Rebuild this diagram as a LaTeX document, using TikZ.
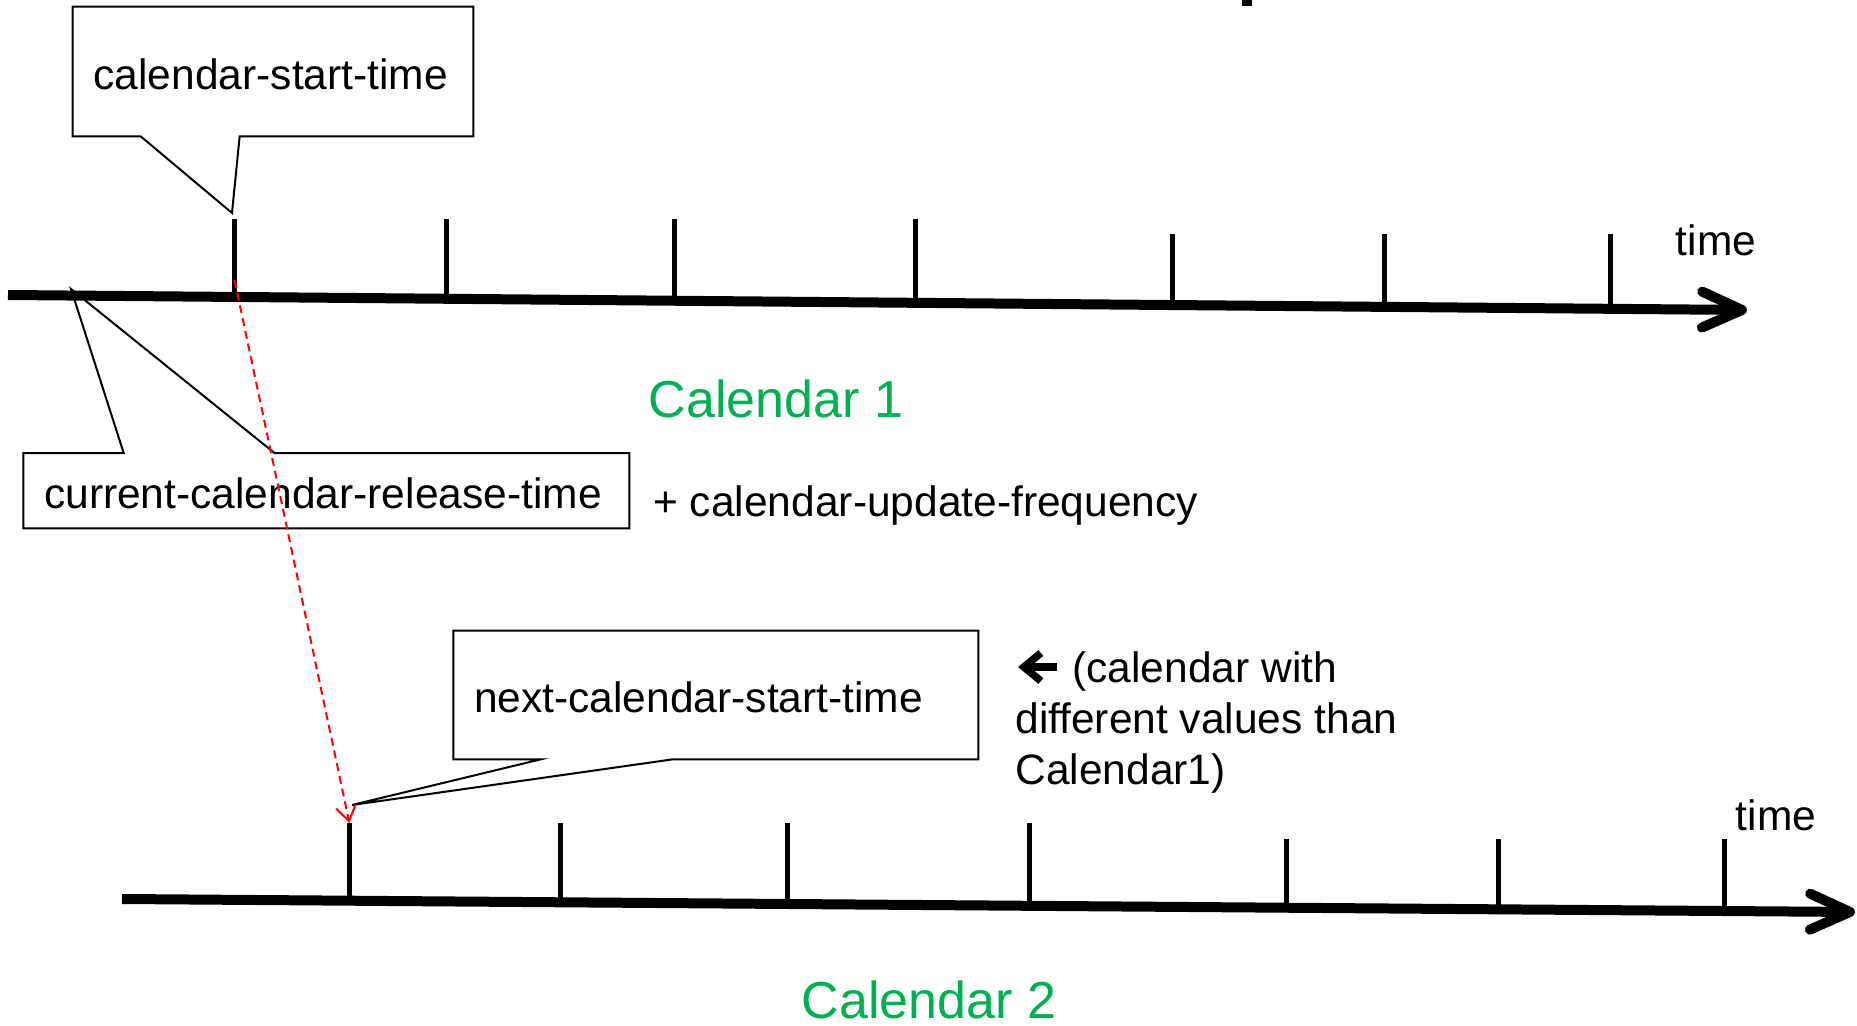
\documentclass[tikz,border=0pt]{standalone}
\usepackage{fontspec}
\setmainfont{Liberation Sans}
\usetikzlibrary{arrows.meta, positioning}
\definecolor{calgreen}{RGB}{0,176,80}
\tikzset{
	timeaxis/.style={line width=0.2cm, -{Straight Barb[length=0.8cm, width=0.72cm, round]}},
	tickline/.style={line width=0.1cm},
	calloutline/.style={line width=0.04cm},
	boxtext/.style={font=\fontsize{24.2pt}{29pt}\selectfont, inner sep=0pt},
	calbox/.style={boxtext, inner xsep=0.41cm, align=left, text width=#1, text height=0.71cm},
	caltitle/.style={font=\fontsize{29.6pt}{35pt}\selectfont, text=calgreen, anchor=base, inner sep=0pt},
	nextlink/.style={red, line width=0.04cm, dash pattern=on 0.16cm off 0.1cm, -{Straight Barb[length=0.3cm, width=0.4cm]}},
	backarrow/.style={line width=0.15cm, -{Straight Barb[length=0.34cm, width=0.56cm]}}
}

\begin{document}
\begin{tikzpicture}[x=0.02cm, y=-0.02cm]
	\useasboundingbox (0,0) rectangle (1857,1026);
	
	% cut-off mark at the top edge
	\fill (1242,0) rectangle (1252,6);
	
	% Calendar 1 time line
	\coordinate (axisA) at (8,295);
	\coordinate (endA) at (1747,310);
	\draw[timeaxis] (axisA) -- (endA);
	\draw[tickline] (234.5,219) -- (234.5,297);
	\draw[tickline] (446.5,219) -- (446.5,299);
	\draw[tickline] (674,219) -- (674,301);
	\draw[tickline] (915.5,219) -- (915.5,303);
	\draw[tickline] (1172.5,234) -- (1172.5,305);
	\draw[tickline] (1384.5,234) -- (1384.5,307);
	\draw[tickline] (1610.6,234) -- (1610.6,309);
	\node[boxtext, anchor=base] (timeA) at (1716,255.5) {time};
	\node[caltitle] (calA) at (776,417.5) {Calendar 1};
	
	% Calendar 2 time line
	\coordinate (axisB) at (122,899);
	\coordinate (endB) at (1855,912);
	\draw[timeaxis] (axisB) -- (endB);
	\draw[tickline] (349.4,823) -- (349.4,901);
	\draw[tickline] (560.2,823) -- (560.2,902);
	\draw[tickline] (787.6,823) -- (787.6,904);
	\draw[tickline] (1029.2,823) -- (1029.2,906);
	\draw[tickline] (1286.2,839) -- (1286.2,908);
	\draw[tickline] (1498.2,839) -- (1498.2,909);
	\draw[tickline] (1724.4,839) -- (1724.4,911);
	\node[boxtext, anchor=base] (timeB) at (1776,830.5) {time};
	\node[caltitle] (calB) at (929,1018) {Calendar 2};
	
	% callout boxes
	\coordinate (starttip) at (232,213);
	\coordinate (reltip) at (71,289);
	\coordinate (nexttip) at (352,805);
	\node[calbox=7.18cm, minimum height=2.58cm] (startbox) at (273,71.5) {calendar-start-time};
	\node[calbox=11.29cm, minimum height=1.49cm] (relbox) at (326.3,490.8) {current-calendar-release-time};
	\node[calbox=9.67cm, minimum height=2.56cm] (nextbox) at (715.8,695) {next-calendar-start-time};
	
	\draw[calloutline] (startbox.north west) -- (startbox.north east) -- (startbox.south east)
		-- ([xshift=3.34cm]startbox.south west) -- (starttip) -- ([xshift=1.36cm]startbox.south west)
		-- (startbox.south west) -- cycle;
	\draw[calloutline] (relbox.north west) -- ([xshift=2.01cm]relbox.north west) -- (reltip)
		-- ([xshift=5.03cm]relbox.north west) -- (relbox.north east) -- (relbox.south east)
		-- (relbox.south west) -- cycle;
	\draw[calloutline] (nextbox.north west) -- (nextbox.north east) -- (nextbox.south east)
		-- ([xshift=4.39cm]nextbox.south west) -- (nexttip) -- ([xshift=1.75cm]nextbox.south west)
		-- (nextbox.south west) -- cycle;
	
	\node[boxtext, anchor=base west] (freq) at (653,517) {+ calendar-update-frequency};
	
	% note on the second calendar
	\node[boxtext, anchor=north west, align=left] (note) at (1015,651) {\hspace*{1.14cm}(calendar with\\different values than\\Calendar1)};
	\coordinate (glyphtail) at (1057,667);
	\coordinate (glyphtip) at (1018,667);
	\draw[backarrow] (glyphtail) -- (glyphtip);
	
	% start of next calendar
	\coordinate (startA) at (234.5,280);
	\coordinate (startB) at (349.4,823);
	\draw[nextlink] (startA) -- (startB);
	
\end{tikzpicture}
\end{document}
